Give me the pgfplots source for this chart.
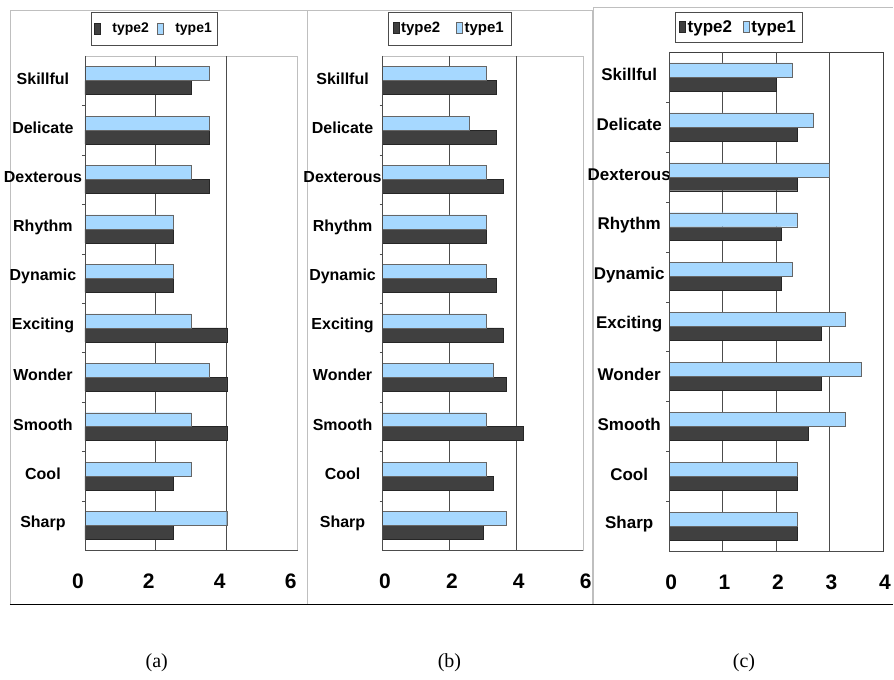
\documentclass[border=0pt]{standalone}
\usepackage{fontspec}
\setmainfont{Liberation Serif}
\setsansfont{Liberation Sans}
\usepackage{pgfplots}
\pgfplotsset{compat=1.18}
\definecolor{lblue}{RGB}{166,216,255}
\definecolor{dgray}{RGB}{64,64,64}

\pgfplotsset{
 panel/.style={
  scale only axis, xbar, bar width=14pt,
  xmin=0, ymin=-0.5, ymax=9.5,
  ytick={0,...,9},
  yticklabels={Sharp,Cool,Smooth,Wonder,Exciting,Dynamic,Rhythm,Dexterous,Delicate,Skillful},
  minor ytick={0.5,1.5,...,8.5},
  ytick pos=left, xtick pos=bottom,
  major tick length=0pt, minor tick length=3pt,
  tick style={black!70},
  yticklabel style={font=\fontsize{16}{18}\selectfont\sffamily\bfseries, anchor=center, yshift=2pt},
  xticklabel style={font=\fontsize{21}{24}\selectfont\sffamily\bfseries, anchor=north, yshift=-20pt},
  axis line style={black!25},
  legend columns=2,
  legend cell align=left,
  legend style={draw=black!70, font=\fontsize{14}{16}\selectfont\sffamily\bfseries, anchor=south west, inner xsep=3pt, inner ysep=8.5pt},
  legend image code/.code={\draw[##1] (0pt,-5pt) rectangle (6pt,6pt);},
  extra x tick labels={},
  extra x tick style={grid=major, major grid style={black!70, line width=0.8pt}},
  after end axis/.code={\draw[black!70] (rel axis cs:0,1) -- (rel axis cs:0,0) -- (rel axis cs:1,0);},
 },
 t1/.style={fill=lblue, draw=black!60, bar shift=7pt},
 t2/.style={fill=dgray, draw=black!85, bar shift=-7pt},
}

\begin{document}
\begin{tikzpicture}[x=1pt,y=1pt]
\path (0,0) rectangle (894,680);
% panel frames
\draw[black!25] (10,75) -- (10,670) -- (308,670) -- (308,75);
\draw[black!25] (308,670) -- (593,670) -- (593,75);
\draw[black!25] (594,75) -- (594,673) -- (894,673);
\draw[black, line width=0.8pt] (10,75) -- (894,75);

% (a)
\begin{axis}[panel, at={(85pt,129pt)}, anchor=south west,
  width=213pt, height=495pt, xmax=6,
  xtick={0,2,4,6}, xticklabels={0,2,4,6}, extra x ticks={2,4},
  xticklabel style={xshift=-7pt},
  yticklabel style={xshift=-42pt},
  legend style={at={(axis description cs:0.028,1.022)}, /tikz/every even column/.append style={column sep=6pt}}]
\addplot[t2] coordinates {(2.5,0) (2.5,1) (4,2) (4,3) (4,4) (2.5,5) (2.5,6) (3.5,7) (3.5,8) (3.0,9)};
\addplot[t1] coordinates {(4,0) (3,1) (3,2) (3.5,3) (3,4) (2.5,5) (2.5,6) (3,7) (3.5,8) (3.5,9)};
\legend{\hspace{10pt}type2, \hspace{10pt}type1}
\end{axis}

% (b)
\begin{axis}[panel, at={(383pt,129pt)}, anchor=south west,
  width=201pt, height=495pt, xmax=6,
  xtick={0,2,4,6}, xticklabels={0,2,4,6}, extra x ticks={2,4},
  xticklabel style={xshift=2.5pt},
  yticklabel style={xshift=-40pt},
  legend style={at={(axis description cs:0.025,1.022)}, font=\fontsize{15}{17}\selectfont\sffamily\bfseries, inner xsep=5pt, /tikz/every even column/.append style={column sep=14pt}}]
\addplot[t2] coordinates {(3.0,0) (3.3,1) (4.2,2) (3.7,3) (3.6,4) (3.4,5) (3.1,6) (3.6,7) (3.4,8) (3.4,9)};
\addplot[t1] coordinates {(3.7,0) (3.1,1) (3.1,2) (3.3,3) (3.1,4) (3.1,5) (3.1,6) (3.1,7) (2.6,8) (3.1,9)};
\legend{type2, type1}
\end{axis}

% (c)
\begin{axis}[panel, at={(670pt,128pt)}, anchor=south west,
  width=214pt, height=500pt, xmax=4,
  axis line style={black!75},
  xtick={0,1,2,3,4}, xticklabels={0,1,2,3,4}, extra x ticks={1,2,3},
  xticklabel style={xshift=2pt},
  yticklabel style={xshift=-40pt, font=\fontsize{17}{19}\selectfont\sffamily\bfseries},
  legend style={at={(axis description cs:0.028,1.02)}, font=\fontsize{17}{19}\selectfont\sffamily\bfseries, inner xsep=4pt, inner ysep=6pt, /tikz/every even column/.append style={column sep=9pt}}]
\addplot[t2] coordinates {(2.4,0) (2.4,1) (2.6,2) (2.85,3) (2.85,4) (2.1,5) (2.1,6) (2.4,7) (2.4,8) (2.0,9)};
\addplot[t1] coordinates {(2.4,0) (2.4,1) (3.3,2) (3.6,3) (3.3,4) (2.3,5) (2.4,6) (3.0,7) (2.7,8) (2.3,9)};
\legend{type2, type1}
\end{axis}

% captions
\node[font=\fontsize{20}{22}\selectfont] at (157,16) {(a)};
\node[font=\fontsize{20}{22}\selectfont] at (450,16) {(b)};
\node[font=\fontsize{20}{22}\selectfont] at (745,16) {(c)};
\end{tikzpicture}
\end{document}
